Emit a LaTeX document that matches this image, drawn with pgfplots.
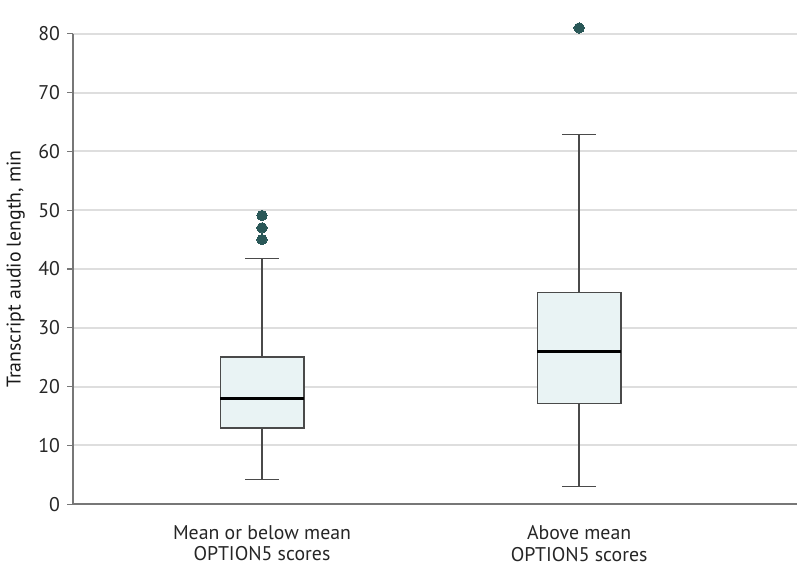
\documentclass[border=0pt]{standalone}
\usepackage{fontspec}
\setmainfont{PT Sans}
\usepackage{pgfplots}
\pgfplotsset{compat=1.18}
\usepgfplotslibrary{statistics}
\definecolor{boxfill}{HTML}{E9F3F4}
\definecolor{boxedge}{HTML}{4A4A4A}
\definecolor{outl}{HTML}{2A5858}
\definecolor{gridc}{HTML}{DEDEDE}
\definecolor{axc}{HTML}{777777}
\begin{document}
\begin{tikzpicture}
\begin{axis}[
  name=ax,
  scale only axis,
  width=364bp, height=236.5bp,
  xmin=0.404, xmax=2.687,
  ymin=0, ymax=80,
  clip=false,
  axis x line*=bottom, axis y line*=left,
  axis line style={axc, line width=0.75bp},
  ytick={0,10,...,80},
  xtick={1,2},
  xticklabels={{Mean or below mean\\OPTION5 scores},{Above mean\\OPTION5 scores}},
  xticklabel style={align=center, font=\fontsize{10}{11}\selectfont, text=black!85, yshift=-4bp},
  yticklabel style={font=\fontsize{10}{11}\selectfont, text=black!85},
  /pgf/number format/assume math mode=true,
  x tick style={draw=none},
  y tick style={axc, line width=0.6bp},
  tick align=outside,
  major tick length=3bp,
  ymajorgrids,
  grid style={gridc, line width=1bp},
  ylabel={Transcript audio length, min},
  ylabel style={font=\fontsize{10}{12}\selectfont, text=black!90},
  boxplot/draw direction=y,
  boxplot/box extend=0.263,
  boxplot/whisker extend=0.107,
  boxplot/every box/.style={draw=boxedge, fill=boxfill, line width=0.8bp},
  boxplot/every whisker/.style={draw=boxedge, line width=0.7bp},
  boxplot/every median/.style={draw=black, line width=1.2bp},
]
\addplot+[boxplot prepared={lower whisker=4.2, lower quartile=13, median=18, upper quartile=25, upper whisker=41.8, draw position=1},
  mark=*, mark size=2.6bp, mark options={fill=outl, draw=outl, line width=0pt}]
  table[row sep=\\, y index=0] {45\\ 47\\ 49.1\\};
\addplot+[boxplot prepared={lower whisker=3, lower quartile=17.1, median=26, upper quartile=36, upper whisker=62.9, draw position=2},
  mark=*, mark size=2.6bp, mark options={fill=outl, draw=outl, line width=0pt}]
  table[row sep=\\, y index=0] {81\\};
\end{axis}
\path ([shift={(-35bp,-41bp)}]ax.south west) rectangle ++(399bp,294.5bp);
\end{tikzpicture}
\end{document}
